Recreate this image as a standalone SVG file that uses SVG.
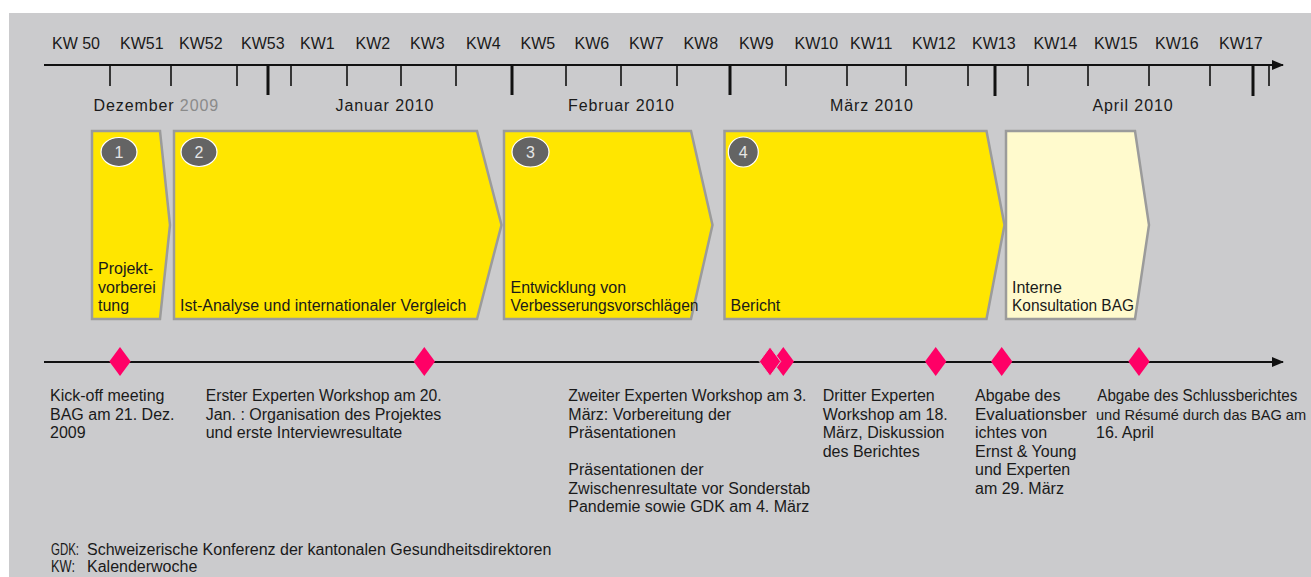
<svg xmlns="http://www.w3.org/2000/svg" width="1311" height="577" viewBox="0 0 1311 577">
<defs>
<style>
text{font-family:"Liberation Sans",Arial,sans-serif;font-size:16px;fill:#1a1a1a}
.month{letter-spacing:0.9px}
.phase{fill:#ffe600;stroke:#9b9b9b;stroke-width:2.5}
.phase5{fill:#fffacd;stroke:#9b9b9b;stroke-width:2.5}
.badge{fill:#646464;stroke:#ffffff;stroke-width:1.2}
.num{fill:#e6e6e6;text-anchor:middle;font-size:16px}
.tick{stroke:#111;stroke-width:1.6}
.tickb{stroke:#111;stroke-width:3}
.axis{stroke:#111;stroke-width:2;fill:none}
.dia{fill:#ff0066}
</style>
<marker id="arr" viewBox="0 0 12 10" refX="11" refY="5" markerWidth="12" markerHeight="10" markerUnits="userSpaceOnUse" orient="auto">
<path d="M0,0 L12,5 L0,10 Z" fill="#111"/>
</marker>
</defs>
<rect x="9" y="13" width="1302" height="564" fill="#cbcbcd"/>

<g id="week-labels">
<text x="52" y="49">KW 50</text>
<text x="120" y="49">KW51</text>
<text x="179" y="49">KW52</text>
<text x="241" y="49">KW53</text>
<text x="300" y="49">KW1</text>
<text x="355.5" y="49">KW2</text>
<text x="410" y="49">KW3</text>
<text x="466" y="49">KW4</text>
<text x="520.5" y="49">KW5</text>
<text x="574.5" y="49">KW6</text>
<text x="629" y="49">KW7</text>
<text x="683.5" y="49">KW8</text>
<text x="739" y="49">KW9</text>
<text x="794.5" y="49">KW10</text>
<text x="850" y="49">KW11</text>
<text x="912" y="49">KW12</text>
<text x="972" y="49">KW13</text>
<text x="1033.5" y="49">KW14</text>
<text x="1094" y="49">KW15</text>
<text x="1155" y="49">KW16</text>
<text x="1219" y="49">KW17</text>
</g>

<g id="connectors">
<line class="axis" x1="44" y1="65" x2="1283" y2="65" marker-end="url(#arr)"/>
<line class="axis" x1="44" y1="362" x2="1283" y2="362" marker-end="url(#arr)"/>
<g id="ticks">
<line class="tick" x1="110" y1="65" x2="110" y2="86"/>
<line class="tick" x1="171" y1="65" x2="171" y2="86"/>
<line class="tick" x1="237" y1="65" x2="237" y2="86"/>
<line class="tickb" x1="268" y1="65" x2="268" y2="95"/>
<line class="tick" x1="291" y1="65" x2="291" y2="86"/>
<line class="tick" x1="347" y1="65" x2="347" y2="86"/>
<line class="tick" x1="401" y1="65" x2="401" y2="86"/>
<line class="tick" x1="456" y1="65" x2="456" y2="86"/>
<line class="tickb" x1="512" y1="65" x2="512" y2="95"/>
<line class="tick" x1="566" y1="65" x2="566" y2="86"/>
<line class="tick" x1="621" y1="65" x2="621" y2="86"/>
<line class="tick" x1="677" y1="65" x2="677" y2="86"/>
<line class="tickb" x1="730" y1="65" x2="730" y2="95"/>
<line class="tick" x1="786" y1="65" x2="786" y2="86"/>
<line class="tick" x1="847" y1="65" x2="847" y2="86"/>
<line class="tick" x1="906" y1="65" x2="906" y2="86"/>
<line class="tick" x1="968" y1="65" x2="968" y2="86"/>
<line class="tickb" x1="995" y1="65" x2="995" y2="96"/>
<line class="tick" x1="1028" y1="65" x2="1028" y2="86"/>
<line class="tick" x1="1088" y1="65" x2="1088" y2="86"/>
<line class="tick" x1="1149" y1="65" x2="1149" y2="86"/>
<line class="tick" x1="1210" y1="65" x2="1210" y2="86"/>
<line class="tickb" x1="1253" y1="65" x2="1253" y2="96"/>
<line class="tick" x1="1269" y1="65" x2="1269" y2="86"/>
</g>
</g>

<g id="month-labels">
<text class="month" x="93.5" y="111">Dezember <tspan fill="#8a8a8a">2009</tspan></text>
<text class="month" x="335.5" y="111">Januar 2010</text>
<text class="month" x="568" y="111">Februar 2010</text>
<text class="month" x="830" y="111">März 2010</text>
<text class="month" x="1092.5" y="111">April 2010</text>
</g>

<g id="phase1">
<polygon class="phase" points="92,131 160,131 170,225 160,319 92,319"/>
<ellipse class="badge" cx="119" cy="152" rx="18" ry="14.5"/>
<text class="num" x="119" y="158">1</text>
<text x="98" y="274">Projekt-</text>
<text x="98" y="292.5">vorberei</text>
<text x="98" y="311">tung</text>
</g>
<g id="phase2">
<polygon class="phase" points="174,131 477,131 501.5,225 477,319 174,319"/>
<ellipse class="badge" cx="199" cy="152" rx="18" ry="14.5"/>
<text class="num" x="199" y="158">2</text>
<text x="180" y="311">Ist-Analyse und internationaler Vergleich</text>
</g>
<g id="phase3">
<polygon class="phase" points="504,131 691,131 712.5,225 691,319 504,319"/>
<ellipse class="badge" cx="530.5" cy="152" rx="18.5" ry="15"/>
<text class="num" x="530.5" y="158">3</text>
<text x="510.5" y="292.5">Entwicklung von</text>
<text x="510.5" y="311" textLength="188" lengthAdjust="spacingAndGlyphs">Verbesserungsvorschlägen</text>
</g>
<g id="phase4">
<polygon class="phase" points="724.5,131 986.5,131 1004.5,225 986.5,319 724.5,319"/>
<ellipse class="badge" cx="743.3" cy="152" rx="15" ry="15"/>
<text class="num" x="743.3" y="158">4</text>
<text x="730.5" y="311">Bericht</text>
</g>
<g id="phase5">
<polygon class="phase5" points="1006,131 1135,131 1149,225 1135,319 1006,319"/>
<text x="1012" y="292.5">Interne</text>
<text x="1012" y="311" textLength="122" lengthAdjust="spacingAndGlyphs">Konsultation BAG</text>
</g>

<g id="milestone1">
<polygon class="dia" points="120,347 130.7,361.5 120,376 109.3,361.5"/>
<text x="50" y="401">Kick-off meeting</text>
<text x="50" y="419.5">BAG am 21. Dez.</text>
<text x="50" y="438">2009</text>
</g>
<g id="milestone2">
<polygon class="dia" points="424.3,347 435,361.5 424.3,376 413.6,361.5"/>
<text x="205.7" y="401" textLength="236" lengthAdjust="spacingAndGlyphs">Erster Experten Workshop am 20.</text>
<text x="205.7" y="419.5">Jan. : Organisation des Projektes</text>
<text x="205.7" y="438">und erste Interviewresultate</text>
</g>
<g id="milestone3">
<polygon class="dia" points="783.3,347 794,361.5 783.3,376 772.6,361.5"/>
<polygon class="dia" points="770,347 780.7,361.5 770,376 759.3,361.5" stroke="#cbcbcd" stroke-width="1"/>
<text x="568.3" y="401" textLength="238" lengthAdjust="spacingAndGlyphs">Zweiter Experten Workshop am 3.</text>
<text x="568.3" y="419.5">März: Vorbereitung der</text>
<text x="568.3" y="438">Präsentationen</text>
<text x="568.3" y="475">Präsentationen der</text>
<text x="568.3" y="493.5">Zwischenresultate vor Sonderstab</text>
<text x="568.3" y="512">Pandemie sowie GDK am 4. März</text>
</g>
<g id="milestone4">
<polygon class="dia" points="935.7,347 946.4,361.5 935.7,376 925,361.5"/>
<text x="822.7" y="401">Dritter Experten</text>
<text x="822.7" y="419.5">Workshop am 18.</text>
<text x="822.7" y="438">März, Diskussion</text>
<text x="822.7" y="456.5">des Berichtes</text>
</g>
<g id="milestone5">
<polygon class="dia" points="1001.7,347 1012.4,361.5 1001.7,376 991,361.5"/>
<text x="975" y="401">Abgabe des</text>
<text x="975" y="419.5" textLength="112" lengthAdjust="spacingAndGlyphs">Evaluationsber</text>
<text x="975" y="438">ichtes von</text>
<text x="975" y="456.5">Ernst &amp; Young</text>
<text x="975" y="475">und Experten</text>
<text x="975" y="493.5">am 29. März</text>
</g>
<g id="milestone6">
<polygon class="dia" points="1139,347 1149.7,361.5 1139,376 1128.3,361.5"/>
<text x="1097.3" y="401" textLength="200" lengthAdjust="spacingAndGlyphs">Abgabe des Schlussberichtes</text>
<text x="1096" y="419.5" font-size="14.6" style="font-size:14.6px">und Résumé durch das BAG am</text>
<text x="1096" y="438">16. April</text>
</g>

<g id="legend">
<text x="51" y="555" textLength="28" lengthAdjust="spacingAndGlyphs">GDK:</text>
<text x="87" y="555">Schweizerische Konferenz der kantonalen Gesundheitsdirektoren</text>
<text x="51" y="572" textLength="24" lengthAdjust="spacingAndGlyphs">KW:</text>
<text x="87" y="572">Kalenderwoche</text>
</g>
</svg>
